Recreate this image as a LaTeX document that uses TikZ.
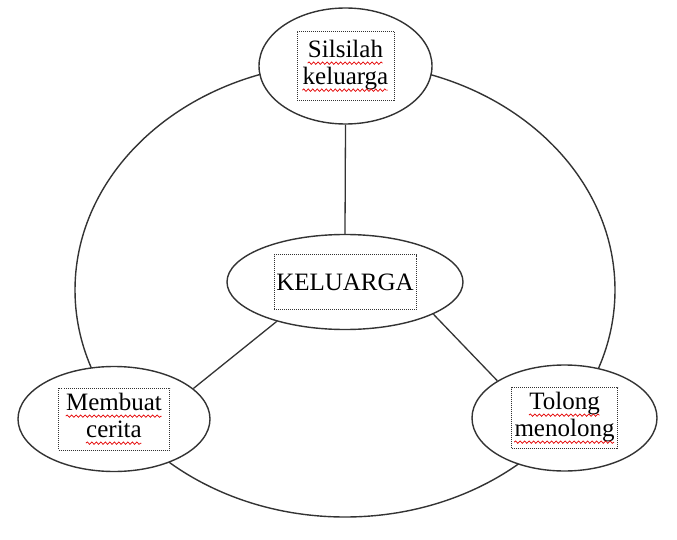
\documentclass[tikz,border=0pt]{standalone}
\usepackage{fontspec}
\setmainfont{Liberation Serif}
\usetikzlibrary{positioning,shapes,decorations.pathmorphing}
\newsavebox\wordbox
\newcommand\spellmark[1]{\sbox\wordbox{#1}\usebox\wordbox\llap{\tikz[baseline=0pt]\draw[red!90!black, line width=0.7pt, solid, decorate, decoration={snake, amplitude=1.2pt, segment length=4.5pt}] (0pt,-5.5pt) -- (\the\wd\wordbox,-5.5pt);}}
\tikzset{
  oval/.style={ellipse, draw=black!80, line width=1.4pt, fill=white, inner sep=0pt},
  textbox/.style={draw=black!80, line width=0.9pt, dash pattern=on 1pt off 1pt, align=center, inner sep=1pt, font=\fontsize{25}{27}\selectfont},
  link/.style={draw=black!80, line width=1.3pt}
}
\begin{document}
\begin{tikzpicture}[x=1pt,y=-1pt]
\useasboundingbox (0,0) rectangle (677,540);
\draw[line width=1.4pt, color=black!80] (345,290) ellipse [x radius=270pt, y radius=227pt];
\node[oval, minimum width=173pt, minimum height=116pt] (silsilah) at (345.5,66) {};
\node[textbox, minimum width=97pt, minimum height=69pt] (silsilahtext) at (silsilah) {\spellmark{Silsilah}\\\spellmark{keluarga}};
\node[oval, minimum width=236pt, minimum height=95pt] (keluarga) at (345,282) {};
\node[textbox, minimum width=142pt, minimum height=55pt] (keluargatext) at (keluarga) {KELUARGA};
\node[oval, minimum width=192pt, minimum height=105pt] (cerita) at (114,419) {};
\node[textbox, minimum width=111pt, minimum height=62pt] (ceritatext) at (cerita) {\spellmark{Membuat}\\\spellmark{cerita}};
\node[oval, minimum width=185pt, minimum height=106pt] (tolong) at (564.5,418) {};
\node[textbox, minimum width=106pt, minimum height=61pt] (tolongtext) at (tolong) {\spellmark{Tolong}\\\spellmark{menolong}};
\draw[link] (silsilah.south) -- (keluarga.north);
\draw[link] (keluarga.-150) -- (cerita.21);
\draw[link] (keluarga.-20) -- (tolong.151);
\end{tikzpicture}
\end{document}
